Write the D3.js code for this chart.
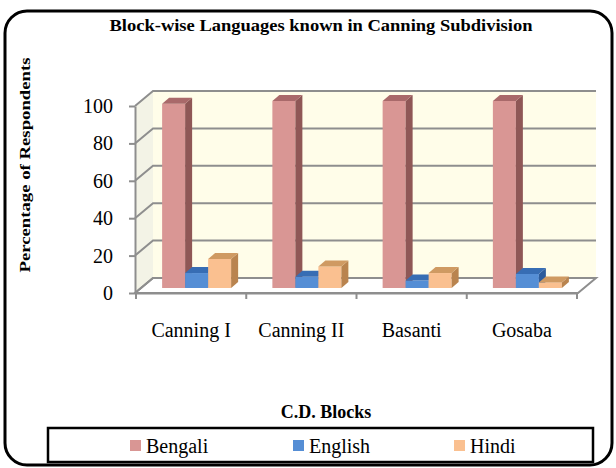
<!DOCTYPE html>
<html>
<head>
<meta charset="utf-8">
<script src="https://cdn.jsdelivr.net/npm/d3@7"></script>
<style>
    body { margin: 0; background: #fff; }
    svg text { font-family: "Liberation Serif", "Times New Roman", Times, serif !important; fill: #000; }
</style>
</head>
<body>
<div id="chart"></div>
<script>
// chart data
var blocks = ["Canning I", "Canning II", "Basanti", "Gosaba"];
var languages = ["Bengali", "English", "Hindi"];
var bengali = [98.5, 100, 100, 100];
var english = [8, 6, 4, 7.5];
var hindi = [15.5, 11.5, 8, 3];
var yTicks = [0, 20, 40, 60, 80, 100];

var seriesValues = [bengali, english, hindi];

// face / side / top colours per language
var faceColor = ["#D99694", "#558ED5", "#FAC090"];
var sideColor = ["#8F5756", "#2D5C9C", "#B9844F"];
var topColor  = ["#A9696A", "#376DB4", "#CF9A62"];

var serif = "'Liberation Serif', 'Times New Roman', serif";

var W = 616, H = 468;
var svg = d3.select("#chart").append("svg")
    .attr("width", W)
    .attr("height", H);

// outer rounded frame
svg.append("rect")
    .attr("x", 5).attr("y", 11)
    .attr("width", 607).attr("height", 454)
    .attr("rx", 22).attr("ry", 22)
    .attr("fill", "#fff")
    .attr("stroke", "#000")
    .attr("stroke-width", 3);

svg.append("text")
    .attr("x", 321).attr("y", 31)
    .attr("text-anchor", "middle")
    .attr("font-weight", "bold")
    .attr("font-size", 16)
    .attr("textLength", 423)
    .attr("lengthAdjust", "spacingAndGlyphs")
    .text("Block-wise Languages known in Canning Subdivision");

// --- Scales (front plane) ---
var depthX = 18, depthY = -15;
var yScale = d3.scaleLinear().domain([0, 100]).range([293, 106]);
var xScale = d3.scaleBand().domain(blocks).range([136, 577]);

var x0 = xScale.range()[0] - 1, x1 = xScale.range()[1] + 1;
var yBase = yScale(0), yTop = yScale(100);

// --- Walls ---
svg.append("polygon")
    .attr("points", [[x0, yBase], [x0, yTop], [x0 + depthX, yTop + depthY], [x0 + depthX, yBase + depthY]].join(" "))
    .attr("fill", "#F3F3E6");

svg.append("rect")
    .attr("x", x0 + depthX).attr("y", yTop + depthY)
    .attr("width", x1 - x0).attr("height", yBase - yTop)
    .attr("fill", "#FFFDE9");

svg.append("polygon")
    .attr("points", [[x0, yBase], [x1, yBase], [x1 + depthX, yBase + depthY], [x0 + depthX, yBase + depthY]].join(" "))
    .attr("fill", "#fff")
    .attr("stroke", "#8E8E8E")
    .attr("stroke-width", 2);

// gridlines along left wall + back wall
svg.append("g")
    .selectAll("polyline")
    .data(yTicks)
    .enter().append("polyline")
    .attr("points", d => [[x0, yScale(d)], [x0 + depthX, yScale(d) + depthY], [x1 + depthX, yScale(d) + depthY]].join(" "))
    .attr("fill", "none")
    .attr("stroke", "#8E8E8E")
    .attr("stroke-width", 2);

// --- Y axis ---
var yAxis = svg.append("g")
    .attr("transform", `translate(${x0},0)`)
    .call(d3.axisLeft(yScale).tickValues(yTicks).tickSize(6).tickPadding(16).tickSizeOuter(0));
yAxis.attr("font-family", null);
yAxis.select(".domain").attr("stroke", "#8E8E8E").attr("stroke-width", 2);
yAxis.selectAll(".tick line").attr("stroke", "#8E8E8E").attr("stroke-width", 2);
yAxis.selectAll(".tick text")
    .style("font-family", serif)
    .attr("font-size", 20)
    .attr("fill", "#000");

svg.append("text")
    .attr("transform", "translate(30,165) rotate(-90)")
    .attr("text-anchor", "middle")
    .attr("font-weight", "bold")
    .attr("font-size", 15)
    .attr("textLength", 215)
    .attr("lengthAdjust", "spacingAndGlyphs")
    .text("Percentage of Respondents");

// --- Bars ---
var barW = 23, barDX = 7, barDY = -6;
var barOffX = 5.5, barOffY = -5;
var groupW = barW * languages.length;

blocks.forEach(function (block, ci) {
    var gx = xScale(block) + barOffX + (xScale.bandwidth() - groupW) / 2;
    var yb = yScale(0) + barOffY;
    languages.forEach(function (lang, si) {
        var v = seriesValues[si][ci];
        var bx = gx + si * barW;
        var yt = yScale(v) + barOffY;
        var g = svg.append("g").attr("class", "bar");
        g.append("rect")
            .attr("x", bx).attr("y", yt)
            .attr("width", barW).attr("height", yb - yt)
            .attr("fill", faceColor[si]);
        g.append("polygon")
            .attr("points", [[bx + barW, yt], [bx + barW + barDX, yt + barDY], [bx + barW + barDX, yb + barDY], [bx + barW, yb]].join(" "))
            .attr("fill", sideColor[si]);
        g.append("polygon")
            .attr("points", [[bx, yt], [bx + barDX, yt + barDY], [bx + barW + barDX, yt + barDY], [bx + barW, yt]].join(" "))
            .attr("fill", topColor[si]);
    });
});

// --- X axis ---
var xAxis = svg.append("g")
    .attr("transform", `translate(0,${yBase})`)
    .call(d3.axisBottom(xScale).tickSize(0).tickPadding(30));
xAxis.attr("font-family", null);
xAxis.select(".domain").attr("stroke", "#8E8E8E").attr("stroke-width", 2);
xAxis.selectAll(".tick text")
    .style("font-family", serif)
    .attr("font-size", 20)
    .attr("fill", "#000");

// category separators below the axis
var seps = blocks.map(b => xScale(b)).concat([xScale.range()[1]]);
svg.append("g")
    .selectAll("line")
    .data(seps)
    .enter().append("line")
    .attr("x1", d => d).attr("x2", d => d)
    .attr("y1", yBase).attr("y2", yBase + 6)
    .attr("stroke", "#8E8E8E")
    .attr("stroke-width", 2);

svg.append("text")
    .attr("x", 326).attr("y", 418)
    .attr("text-anchor", "middle")
    .attr("font-weight", "bold")
    .attr("font-size", 18)
    .text("C.D. Blocks");

// --- Legend ---
svg.append("rect")
    .attr("x", 48).attr("y", 428)
    .attr("width", 545).attr("height", 34)
    .attr("fill", "#fff")
    .attr("stroke", "#000")
    .attr("stroke-width", 2.5);

var legendX = [130, 293, 454];
var legendItem = svg.selectAll(".legend-item")
    .data(languages)
    .enter().append("g")
    .attr("class", "legend-item")
    .attr("transform", (d, i) => `translate(${legendX[i]},440)`);

legendItem.append("rect")
    .attr("width", 11).attr("height", 11)
    .attr("fill", (d, i) => faceColor[i]);

legendItem.append("text")
    .attr("x", 16).attr("y", 13)
    .style("font-family", serif)
    .attr("font-size", 20)
    .text(d => d);
</script>
</body>
</html>
